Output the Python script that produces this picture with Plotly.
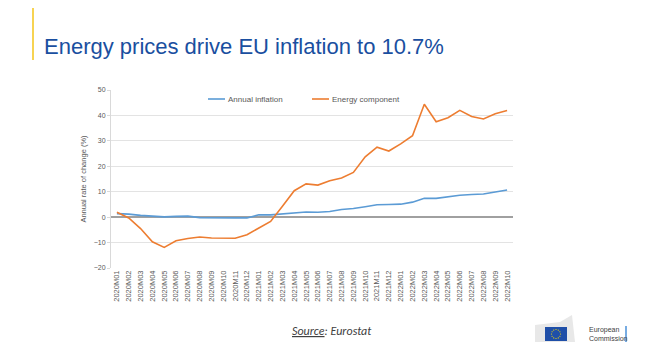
import plotly.graph_objects as go
import math

months = [f"{y}M{m:02d}" for y in (2020, 2021, 2022) for m in range(1, 13)][:34]
annual_inflation = [1.4, 1.2, 0.7, 0.3, 0.1, 0.3, 0.4, -0.2, -0.3, -0.3, -0.3, -0.3,
                    0.9, 0.9, 1.3, 1.6, 2.0, 1.9, 2.2, 3.0, 3.4, 4.1, 4.9, 5.0,
                    5.1, 5.9, 7.4, 7.4, 8.1, 8.6, 8.9, 9.1, 9.9, 10.7]
energy_component = [1.9, -0.3, -4.5, -9.7, -11.9, -9.3, -8.4, -7.8, -8.2, -8.2, -8.3, -6.9,
                    -4.2, -1.7, 4.3, 10.4, 13.1, 12.6, 14.3, 15.4, 17.6, 23.7, 27.5, 26.0,
                    28.8, 32.0, 44.4, 37.5, 39.1, 42.0, 39.6, 38.6, 40.7, 41.9]
y_ticks = [-20, -10, 0, 10, 20, 30, 40, 50]
series_names = ["Annual inflation", "Energy component"]
series_colors = ["#5B9BD5", "#ED7D31"]

fig = go.Figure()
for name, vals, col in zip(series_names, [annual_inflation, energy_component], series_colors):
    fig.add_trace(go.Scatter(x=months, y=vals, mode="lines", name=name,
                             line=dict(color=col, width=1.6)))

# The page body has an 8px margin: lay the figure out in page coordinates minus that offset
OFF = 8
W, H = 650 - OFF, 357 - OFF
L, R, T, B = 111, 513, 90, 268  # plot area in page coordinates
fig.update_layout(
    width=W, height=H,
    margin=dict(l=L - OFF, r=W - (R - OFF), t=T - OFF, b=H - (B - OFF), pad=0, autoexpand=False),
    paper_bgcolor="white", plot_bgcolor="white",
    font=dict(family="Liberation Sans, Arial, sans-serif", color="#595959"),
    showlegend=False,
    xaxis=dict(type="category", range=[-0.5, 33.5], tickangle=-90, automargin=False,
               tickfont=dict(size=7.5, color="#595959"), showgrid=False,
               showline=False, ticks="", zeroline=False),
    yaxis=dict(range=[-20, 50], tickvals=y_ticks, tickfont=dict(size=7, color="#595959"),
               automargin=False,
               showgrid=True, gridcolor="#E3E3E3", gridwidth=1,
               zeroline=True, zerolinecolor="#A0A0A0", zerolinewidth=2,
               showline=True, linecolor="#D9D9D9", linewidth=1,
               ticks="outside", ticklen=3, tickcolor="#D9D9D9",
               title=dict(text="Annual rate of change (%)", font=dict(size=7.5, color="#595959"), standoff=6)),
)


def px(x):
    return (x - L) / (R - L)


def py(y):
    return (B - y) / (B - T)


# Manual legend (short line samples like the original)
legend_x = [208, 312]
for name, col, lx in zip(series_names, series_colors, legend_x):
    fig.add_shape(type="line", xref="paper", yref="paper", x0=px(lx), x1=px(lx + 17),
                  y0=py(99), y1=py(99), line=dict(color=col, width=1.6))
    fig.add_annotation(text=name, xref="paper", yref="paper", x=px(lx + 18), y=py(99),
                       xanchor="left", yanchor="middle", showarrow=False,
                       font=dict(size=8, color="#595959"))

# Title and accent bar
fig.add_shape(type="line", xref="paper", yref="paper", x0=px(33), x1=px(33),
              y0=py(OFF), y1=py(60), line=dict(color="#F5C518", width=1.5))
fig.add_annotation(text="Energy prices drive EU inflation to 10.7%", xref="paper", yref="paper",
                   x=px(42), y=py(47), xanchor="left", yanchor="middle", showarrow=False,
                   font=dict(size=22, color="#1A4FA0", family="Liberation Sans, Arial, sans-serif"))

fig.add_annotation(text="<i><u>Source</u>: Eurostat</i>", xref="paper", yref="paper",
                   x=px(332), y=py(331), xanchor="center", yanchor="middle", showarrow=False,
                   font=dict(size=12, color="#404040", family="Carlito, Calibri, Liberation Sans, sans-serif"))

# European Commission logo (approximation)
fig.add_shape(type="path", xref="paper", yref="paper",
              path=f"M {px(535)} {py(342)} L {px(535)} {py(325)} L {px(560)} {py(322)} L {px(572)} {py(315)} L {px(575)} {py(342)} Z",
              fillcolor="#E8E8E8", line=dict(width=0))
fig.add_shape(type="rect", xref="paper", yref="paper", x0=px(545), x1=px(567), y0=py(341), y1=py(327),
              fillcolor="#1F4FA8", line=dict(width=0))
cx, cy, rr = 556, 334, 4.5
for k in range(12):
    a = 2 * math.pi * k / 12
    sx, sy = cx + rr * math.cos(a), cy + rr * math.sin(a)
    fig.add_shape(type="circle", xref="paper", yref="paper",
                  x0=px(sx - 0.6), x1=px(sx + 0.6), y0=py(sy + 0.6), y1=py(sy - 0.6),
                  fillcolor="#FFDD00", line=dict(width=0))
fig.add_annotation(text="European<br>Commission", xref="paper", yref="paper",
                   x=px(587), y=py(334), xanchor="left", yanchor="middle", showarrow=False, align="left",
                   font=dict(size=7, color="#404040"))
fig.add_shape(type="line", xref="paper", yref="paper", x0=px(626), x1=px(626), y0=py(342), y1=py(326),
              line=dict(color="#4A90D9", width=1.5))

fig.write_html("out.html")
